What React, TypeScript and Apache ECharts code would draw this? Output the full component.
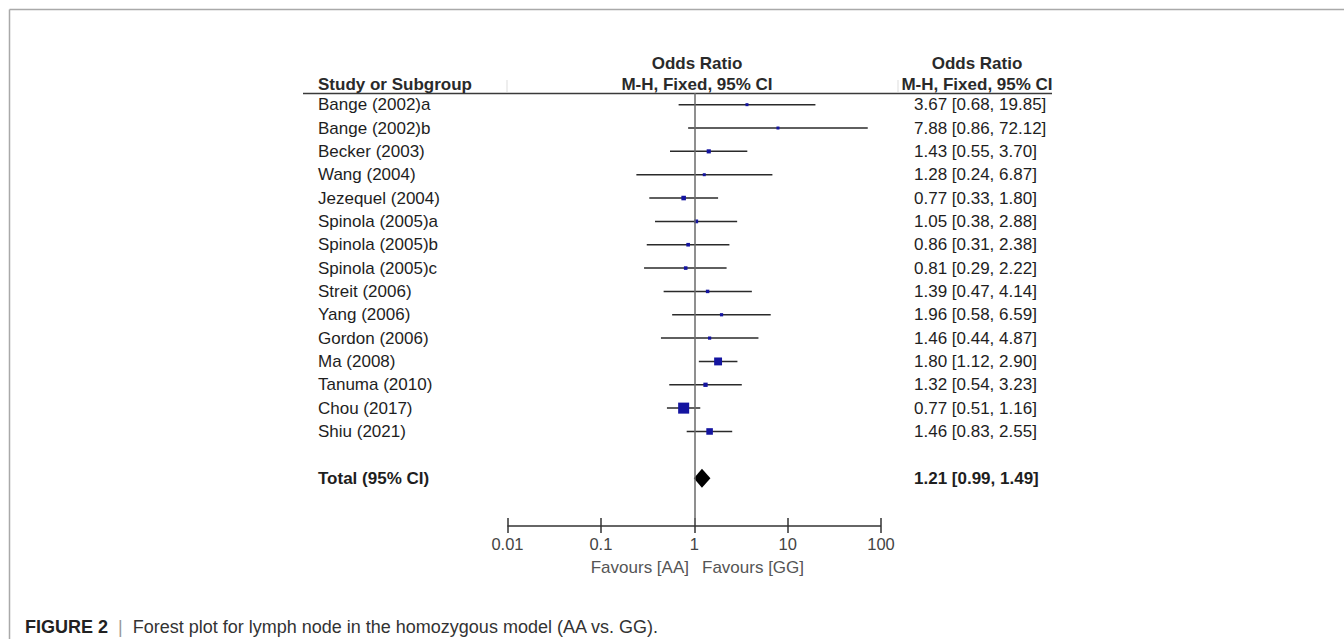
import React, { useEffect, useRef } from "react";
import * as echarts from "echarts";

const studies = [
  "Bange (2002)a", "Bange (2002)b", "Becker (2003)", "Wang (2004)", "Jezequel (2004)",
  "Spinola (2005)a", "Spinola (2005)b", "Spinola (2005)c", "Streit (2006)", "Yang (2006)",
  "Gordon (2006)", "Ma (2008)", "Tanuma (2010)", "Chou (2017)", "Shiu (2021)",
];
const oddsRatios = [3.67, 7.88, 1.43, 1.28, 0.77, 1.05, 0.86, 0.81, 1.39, 1.96, 1.46, 1.8, 1.32, 0.77, 1.46];
const ciLower = [0.68, 0.86, 0.55, 0.24, 0.33, 0.38, 0.31, 0.29, 0.47, 0.58, 0.44, 1.12, 0.54, 0.51, 0.83];
const ciUpper = [19.85, 72.12, 3.7, 6.87, 1.8, 2.88, 2.38, 2.22, 4.14, 6.59, 4.87, 2.9, 3.23, 1.16, 2.55];
const weights = [2.2, 1.0, 4.3, 2.0, 5.2, 3.6, 3.3, 3.2, 3.0, 2.6, 2.6, 15.6, 4.6, 30.4, 10.8];
const totalLabel = "Total (95% CI)";
const totalValues = [1.21, 0.99, 1.49];
const tickLabels = ["0.01", "0.1", "1", "10", "100"];
const favoursLeft = "Favours [AA]";
const favoursRight = "Favours [GG]";
const caption = "Forest plot for lymph node in the homozygous model (AA vs. GG).";

const FONT = "'Liberation Sans', Arial, sans-serif";
const NAME_X = 318;
const CI_X = 914;
const TOTAL_ROW = 16;
const Y_MAX = 18.05;

const ciText = (or: number, lo: number, hi: number) =>
  `${or.toFixed(2)} [${lo.toFixed(2)}, ${hi.toFixed(2)}]`;

export default function App() {
  const ref = useRef<HTMLDivElement>(null);
  useEffect(() => {
    if (!ref.current) return;
    const chart = echarts.init(ref.current, null, { renderer: "svg" });

    const studyData = studies.map((_, i) => [i, oddsRatios[i], ciLower[i], ciUpper[i], weights[i]]);

    const renderStudy = (params: any, api: any) => {
      const i = params.dataIndex;
      const row = api.value(0);
      const p = api.coord([api.value(1), row]);
      const xLo = api.coord([api.value(2), row])[0];
      const xHi = api.coord([api.value(3), row])[0];
      const side = Math.max(3, 2 * Math.sqrt(api.value(4)));
      return {
        type: "group",
        children: [
          { type: "line", shape: { x1: xLo, y1: p[1], x2: xHi, y2: p[1] }, style: { stroke: "#2a2a2a", lineWidth: 1.5 } },
          { type: "rect", shape: { x: p[0] - side / 2, y: p[1] - side / 2, width: side, height: side }, style: { fill: "#1414a0" } },
          { type: "text", x: NAME_X, y: p[1], style: { text: studies[i], fill: "#1e1e1e", fontSize: 17, fontFamily: FONT, verticalAlign: "middle", align: "left" } },
          { type: "text", x: CI_X, y: p[1], style: { text: ciText(oddsRatios[i], ciLower[i], ciUpper[i]), fill: "#1e1e1e", fontSize: 17, fontFamily: FONT, verticalAlign: "middle", align: "left" } },
        ],
      };
    };

    const renderTotal = (params: any, api: any) => {
      const row = api.value(0);
      const p = api.coord([api.value(1), row]);
      const xLo = api.coord([api.value(2), row])[0];
      const xHi = api.coord([api.value(3), row])[0];
      const h = 9.5;
      return {
        type: "group",
        children: [
          { type: "polygon", shape: { points: [[xLo, p[1]], [p[0], p[1] - h], [xHi, p[1]], [p[0], p[1] + h]] }, style: { fill: "#000" } },
          { type: "text", x: NAME_X, y: p[1], style: { text: totalLabel, fill: "#1e1e1e", fontSize: 17, fontWeight: "bold", fontFamily: FONT, verticalAlign: "middle" } },
          { type: "text", x: CI_X, y: p[1], style: { text: ciText(totalValues[0], totalValues[1], totalValues[2]), fill: "#1e1e1e", fontSize: 17, fontWeight: "bold", fontFamily: FONT, verticalAlign: "middle" } },
        ],
      };
    };

    const headerStyle = { fill: "#2a2a2a", fontSize: 17, fontWeight: "bold", fontFamily: FONT };

    const option: any = {
      animation: false,
      backgroundColor: "#ffffff",
      grid: { left: 507.5, right: 463, top: 93, bottom: 113 },
      xAxis: {
        type: "log", logBase: 10, min: 0.01, max: 100, position: "bottom", offset: -8,
        axisLine: { show: false, onZero: false },
        axisTick: { show: true, length: 15, lineStyle: { color: "#333", width: 1.5 } },
        axisLabel: {
          show: true, margin: 17, color: "#444", fontSize: 16.5, fontFamily: FONT,
          formatter: (v: number) => tickLabels[Math.round(Math.log10(v)) + 2] ?? "",
        },
        splitLine: { show: false }, minorTick: { show: false },
      },
      yAxis: { type: "value", min: -0.5, max: Y_MAX, inverse: true, show: false, splitLine: { show: false } },
      series: [
        {
          type: "line", data: [], silent: true,
          markLine: {
            symbol: "none", silent: true, label: { show: false },
            data: [
              { xAxis: 1, lineStyle: { color: "#6a6a6a", width: 1.5, type: "solid" } },
              { yAxis: Y_MAX, lineStyle: { color: "#333", width: 1.5, type: "solid" } },
            ],
          },
        },
        { type: "custom", data: studyData, encode: { x: [1, 2, 3], y: 0 }, renderItem: renderStudy, clip: false, silent: true },
        { type: "custom", data: [[TOTAL_ROW, ...totalValues]], encode: { x: [1, 2, 3], y: 0 }, renderItem: renderTotal, clip: false, silent: true },
      ],
      graphic: [
        { type: "line", shape: { x1: 9.5, y1: 9.5, x2: 1344, y2: 9.5 }, style: { stroke: "#a9a9a9", lineWidth: 1.5 } },
        { type: "line", shape: { x1: 9.5, y1: 9.5, x2: 9.5, y2: 639 }, style: { stroke: "#a9a9a9", lineWidth: 1.5 } },
        { type: "line", shape: { x1: 303, y1: 93.5, x2: 1052, y2: 93.5 }, style: { stroke: "#3a3a3a", lineWidth: 1.5 } },
        { type: "line", shape: { x1: 507, y1: 80, x2: 507, y2: 92 }, style: { stroke: "#dddddd", lineWidth: 1 } },
        { type: "line", shape: { x1: 898, y1: 80, x2: 898, y2: 92 }, style: { stroke: "#dddddd", lineWidth: 1 } },
        { type: "text", x: NAME_X, y: 93, style: { ...headerStyle, text: "Study or Subgroup", align: "left", verticalAlign: "bottom" } },
        { type: "text", x: 697, y: 72, style: { ...headerStyle, text: "Odds Ratio", align: "center", verticalAlign: "bottom" } },
        { type: "text", x: 697, y: 93, style: { ...headerStyle, text: "M-H, Fixed, 95% CI", align: "center", verticalAlign: "bottom" } },
        { type: "text", x: 977, y: 72, style: { ...headerStyle, text: "Odds Ratio", align: "center", verticalAlign: "bottom" } },
        { type: "text", x: 977, y: 93, style: { ...headerStyle, text: "M-H, Fixed, 95% CI", align: "center", verticalAlign: "bottom" } },
        { type: "text", x: 689, y: 567, style: { text: favoursLeft, fill: "#555", fontSize: 17, fontFamily: FONT, align: "right", verticalAlign: "middle" } },
        { type: "text", x: 702, y: 567, style: { text: favoursRight, fill: "#555", fontSize: 17, fontFamily: FONT, align: "left", verticalAlign: "middle" } },
        {
          type: "text", x: 25, y: 627,
          style: {
            text: "{a|FIGURE 2}{b|  |  }{c|" + caption + "}",
            verticalAlign: "middle", align: "left",
            rich: {
              a: { fontSize: 18, fontWeight: "bold", fontFamily: FONT, fill: "#222", color: "#222" },
              b: { fontSize: 18, fontFamily: FONT, fill: "#999", color: "#999" },
              c: { fontSize: 18, fontFamily: FONT, fill: "#333", color: "#333" },
            },
          },
        },
      ],
    };
    chart.setOption(option);
    return () => chart.dispose();
  }, []);

  return <div ref={ref} style={{ position: "absolute", left: 0, top: 0, width: 1344, height: 639, background: "#fff" }} />;
}
